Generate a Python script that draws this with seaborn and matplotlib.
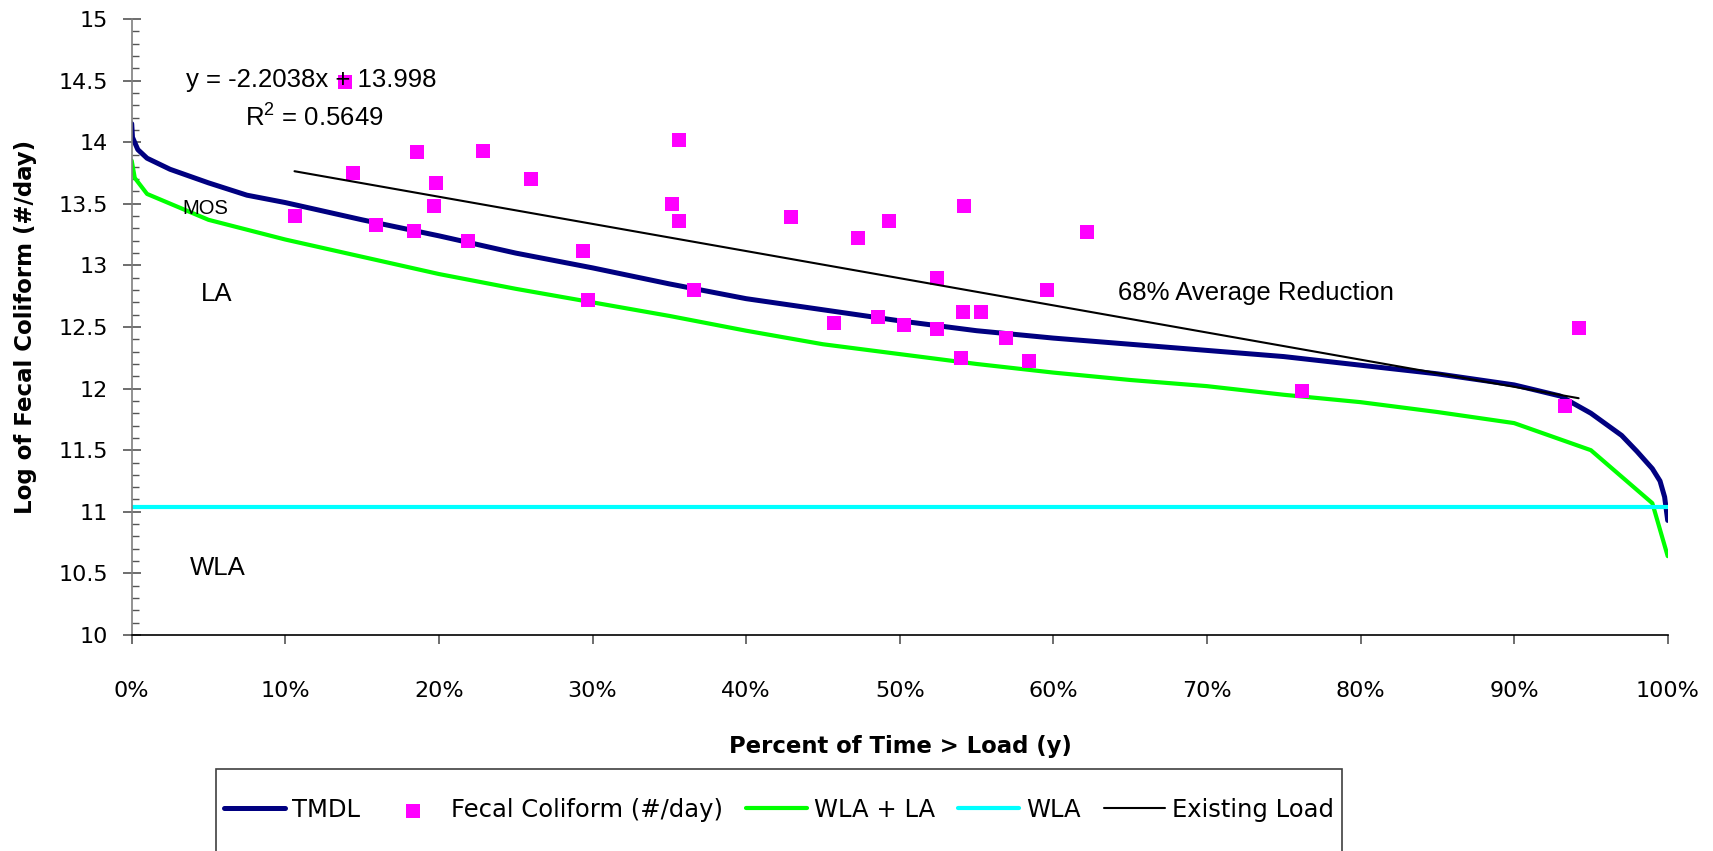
import numpy as np
import pandas as pd
import matplotlib
matplotlib.use("Agg")
import matplotlib.pyplot as plt
import seaborn as sns
from matplotlib.patches import Rectangle
from matplotlib.ticker import MultipleLocator, FuncFormatter

# ---------------- data ----------------
tmdl_pct = [0, 0.05, 0.4, 1, 2.5, 5, 7.5, 10, 15, 20, 25, 30, 35, 40, 45, 50, 55, 60,
            65, 70, 75, 80, 85, 90, 93, 95, 97, 98, 99, 99.5, 99.8, 100]
tmdl_log = [14.15, 14.04, 13.94, 13.87, 13.78, 13.67, 13.57, 13.51, 13.37, 13.24, 13.10,
            12.98, 12.85, 12.73, 12.64, 12.55, 12.47, 12.41, 12.36, 12.31, 12.26, 12.19,
            12.12, 12.03, 11.94, 11.80, 11.62, 11.49, 11.35, 11.25, 11.12, 10.93]

wla_la_pct = [0, 0.2, 1, 5, 10, 15, 20, 25, 30, 35, 40, 45, 50, 55, 60, 65, 70, 75, 80,
              85, 90, 95, 99, 100]
wla_la_log = [13.85, 13.71, 13.58, 13.37, 13.21, 13.07, 12.93, 12.81, 12.70, 12.59, 12.47,
              12.36, 12.28, 12.20, 12.13, 12.07, 12.02, 11.95, 11.89, 11.81, 11.72, 11.50,
              11.07, 10.64]

wla_pct = [0, 100]
wla_log = [11.04, 11.04]

fc_pct = [13.9, 10.6, 14.4, 18.6, 22.9, 19.8, 26.0, 19.7, 15.9, 18.4, 21.9, 29.4, 29.7,
          35.6, 35.2, 35.6, 36.6, 42.9, 47.3, 49.3, 54.2, 45.7, 48.6, 50.3, 52.4, 52.4,
          54.1, 55.3, 59.6, 62.2, 56.9, 54.0, 58.4, 76.2, 93.3, 94.2]
fc_log = [14.49, 13.40, 13.75, 13.92, 13.93, 13.67, 13.70, 13.48, 13.33, 13.28, 13.20,
          13.12, 12.72, 14.02, 13.50, 13.36, 12.80, 13.39, 13.22, 13.36, 13.48, 12.53,
          12.58, 12.52, 12.90, 12.48, 12.62, 12.62, 12.80, 13.27, 12.41, 12.25, 12.22,
          11.98, 11.86, 12.49]

trend_slope = -2.2038
trend_intercept = 13.998
trend_r2 = 0.5649

x_ticks = [0, 10, 20, 30, 40, 50, 60, 70, 80, 90, 100]
x_tick_labels = ["0%", "10%", "20%", "30%", "40%", "50%", "60%", "70%", "80%", "90%", "100%"]
y_ticks = [10, 10.5, 11, 11.5, 12, 12.5, 13, 13.5, 14, 14.5, 15]

# regression (Existing Load) line over the data range
ex_pct = [min(fc_pct), max(fc_pct)]
ex_log = [trend_intercept + trend_slope * p / 100.0 for p in ex_pct]

df_tmdl = pd.DataFrame({"pct": tmdl_pct, "log": tmdl_log})
df_wlala = pd.DataFrame({"pct": wla_la_pct, "log": wla_la_log})
df_wla = pd.DataFrame({"pct": wla_pct, "log": wla_log})
df_fc = pd.DataFrame({"pct": fc_pct, "log": fc_log})
df_ex = pd.DataFrame({"pct": ex_pct, "log": ex_log})

# ---------------- style ----------------
sns.set_style("white")
plt.rcParams["font.family"] = ["DejaVu Sans"]
plt.rcParams["mathtext.fontset"] = "custom"
plt.rcParams["mathtext.rm"] = "Liberation Sans"
plt.rcParams["mathtext.it"] = "Liberation Sans"
plt.rcParams["text.color"] = "black"
plt.rcParams["xtick.labelcolor"] = "black"
plt.rcParams["ytick.labelcolor"] = "black"

W, H = 1713, 851
fig = plt.figure(figsize=(W / 100, H / 100), dpi=100)
ax = fig.add_axes([131.7 / W, 1 - 635 / H, (1667.7 - 131.7) / W, (635 - 19) / H])

sns.lineplot(data=df_tmdl, x="pct", y="log", ax=ax, color="#000080", lw=3.6,
             sort=False, estimator=None, label="TMDL", zorder=2)
sns.scatterplot(data=df_fc, x="pct", y="log", ax=ax, color="#FF00FF", marker="s", s=105,
                linewidth=0, label="Fecal Coliform (#/day)", zorder=3)
sns.lineplot(data=df_wlala, x="pct", y="log", ax=ax, color="#00FF00", lw=3.0,
             sort=False, estimator=None, label="WLA + LA", zorder=2)
sns.lineplot(data=df_wla, x="pct", y="log", ax=ax, color="#00FFFF", lw=3.0,
             sort=False, estimator=None, label="WLA", zorder=2)
sns.lineplot(data=df_ex, x="pct", y="log", ax=ax, color="black", lw=1.5,
             sort=False, estimator=None, label="Existing Load", zorder=4)

handles, labels = ax.get_legend_handles_labels()
ax.get_legend().remove()

ax.set_xlim(0, 100)
ax.set_ylim(10, 15)
ax.set_xticks(x_ticks)
ax.set_xticklabels(x_tick_labels)
ax.set_yticks(y_ticks)
ax.yaxis.set_major_formatter(FuncFormatter(lambda v, p: "%g" % v))
ax.yaxis.set_minor_locator(MultipleLocator(0.1))
ax.set_xlabel("")
ax.set_ylabel("")

for s in ["top", "right"]:
    ax.spines[s].set_visible(False)
ax.spines["left"].set_color("#7f7f7f")
ax.spines["left"].set_linewidth(1.2)
ax.spines["bottom"].set_color("black")
ax.spines["bottom"].set_linewidth(1.2)

ax.tick_params(axis="y", which="major", direction="inout", length=13, width=1.2,
               color="#555555", labelsize=16, labelcolor="black", pad=10.5, left=True)
ax.tick_params(axis="y", which="minor", direction="in", length=5, width=1.0,
               color="#555555", left=True)
ax.tick_params(axis="x", which="major", direction="out", length=6.5, width=1.2,
               color="#555555", labelsize=16, labelcolor="black", pad=26.5, bottom=True)
ax.tick_params(axis="x", which="minor", bottom=False)

# annotations
ann = dict(family=["Liberation Sans", "DejaVu Sans"], color="black")
ax.text(3.56, 14.505, "y = -2.2038x + 13.998", ha="left", va="center", fontsize=18.5,
        zorder=5, **ann)
ax.text(7.4, 14.2, "R$^{2}$ = %.4f" % trend_r2, ha="left", va="center", fontsize=18.5, **ann)
ax.text(4.8, 13.46, "MOS", ha="center", va="center", fontsize=14.5, **ann)
ax.text(5.5, 12.77, "LA", ha="center", va="center", fontsize=18.5, **ann)
ax.text(5.6, 10.54, "WLA", ha="center", va="center", fontsize=18.5, **ann)
ax.text(64.2, 12.775, "68% Average Reduction", ha="left", va="center", fontsize=18.5, **ann)

# axis titles
fig.text(26 / W, 1 - 327 / H, "Log of Fecal Coliform (#/day)", rotation=90, ha="center",
         va="center", fontsize=16.5, weight="bold", color="black")
fig.text(900 / W, 1 - 747 / H, "Percent of Time > Load (y)", ha="center", va="center",
         fontsize=16.4, weight="bold", color="black")

# legend box
fig.patches.append(Rectangle((216 / W, -0.05), (1342 - 216) / W, (1 - 769 / H) + 0.05,
                             transform=fig.transFigure, fill=False, edgecolor="#404040",
                             lw=1.2))
leg = fig.legend(handles, labels, loc="center", bbox_to_anchor=(779 / W, 1 - 810 / H), ncol=5,
                 frameon=False, fontsize=17.5, handlelength=2.5, handletextpad=0.3,
                 columnspacing=0.95)
for t in leg.get_texts():
    t.set_color("black")

fig.savefig("out.png", dpi=100)
